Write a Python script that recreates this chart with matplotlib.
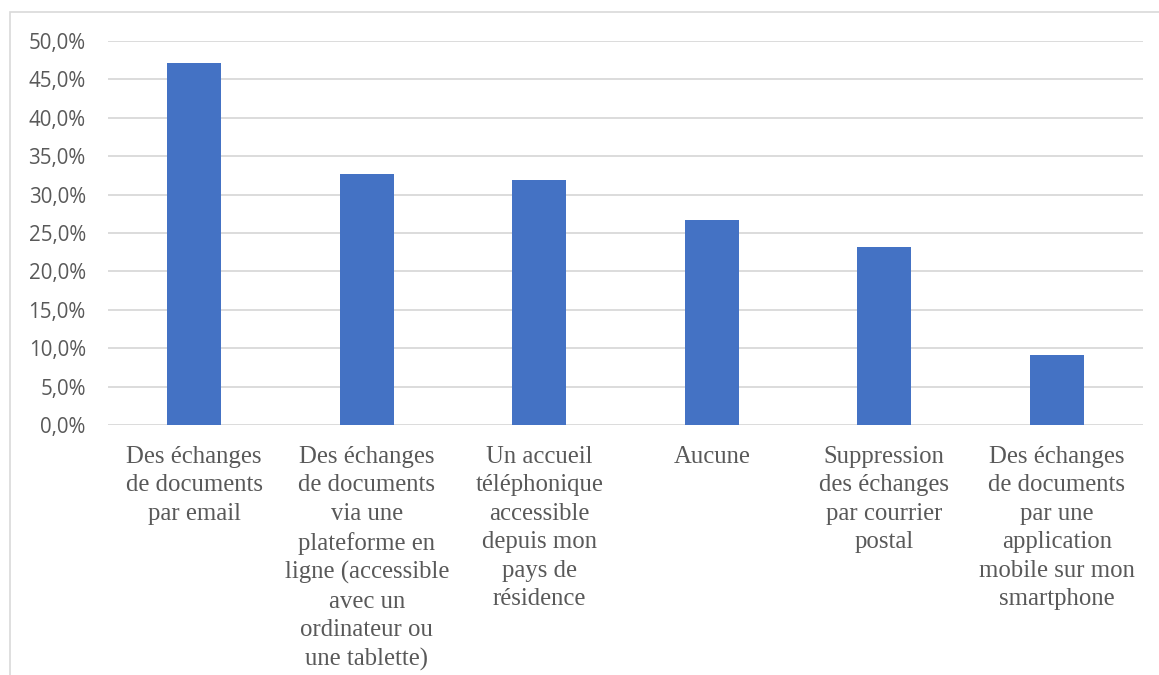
import matplotlib
matplotlib.use("Agg")
import matplotlib.pyplot as plt
from matplotlib.patches import Rectangle
from matplotlib.ticker import FuncFormatter, MultipleLocator

categories = [
    "Des échanges\nde documents\npar email",
    "Des échanges\nde documents\nvia une\nplateforme en\nligne (accessible\navec un\nordinateur ou\nune tablette)",
    "Un accueil\ntéléphonique\naccessible\ndepuis mon\npays de\nrésidence",
    "Aucune",
    "Suppression\ndes échanges\npar courrier\npostal",
    "Des échanges\nde documents\npar une\napplication\nmobile sur mon\nsmartphone",
]
values = [47.1, 32.7, 31.9, 26.7, 23.2, 9.1]

W, H = 1159, 675
fig = plt.figure(figsize=(W / 100, H / 100), dpi=100)
ax = fig.add_axes([108 / W, 1 - 425 / H, (1143 - 108) / W, (425 - 41) / H])

x = list(range(len(categories)))
ax.bar(x, values, width=0.315, color="#4472C4", zorder=3)
ax.set_xlim(-0.5, len(categories) - 0.5)
ax.set_ylim(0, 50)
ax.yaxis.set_major_locator(MultipleLocator(5))
ax.yaxis.set_major_formatter(FuncFormatter(lambda v, p: f"{v:.1f}%".replace(".", ",")))
ax.grid(axis="y", color="#D9D9D9", linewidth=1.3, zorder=0)
for s in ax.spines.values():
    s.set_visible(False)
ax.tick_params(axis="both", length=0)
ax.tick_params(axis="y", pad=16, labelsize=14.8, labelcolor="#595959")
ax.set_xticks(x)
ax.set_xticklabels(categories, fontsize=17.8, color="#595959", family="Liberation Serif",
                   linespacing=1.38, va="top")
ax.tick_params(axis="x", pad=15)
for lab in ax.get_yticklabels():
    lab.set_family("Open Sans")

fig.patches.append(Rectangle((10 / W, -0.1), 1.2, 1 - 12 / H + 0.1, transform=fig.transFigure,
                             fill=False, edgecolor="#D9D9D9", linewidth=1.2))

fig.savefig("out.png", dpi=100)
